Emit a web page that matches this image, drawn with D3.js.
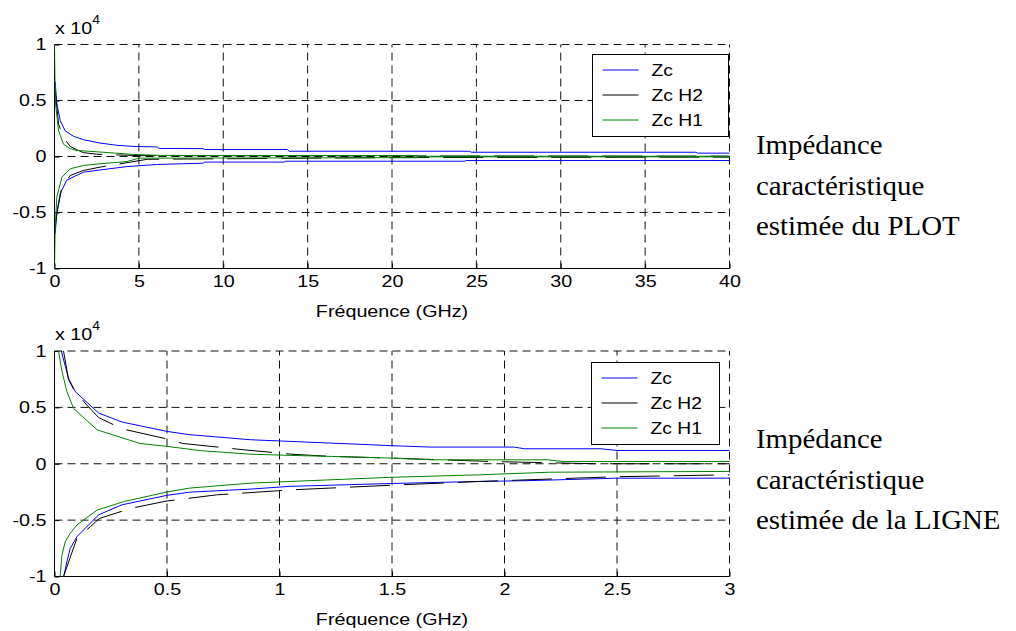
<!DOCTYPE html>
<html>
<head>
<meta charset="utf-8">
<script src="https://cdn.jsdelivr.net/npm/d3@7"></script>
<style>
  html, body { margin: 0; padding: 0; background: #fff; }
  svg { display: block; }
</style>
</head>
<body>
<svg id="chart" width="1016" height="631"></svg>
<script>
// ---------------- DATA ----------------
const seriesNames = ["Zc", "Zc H2", "Zc H1"];
const seriesColors = ["#0000ff", "#000000", "#008000"];

// Top panel (PLOT), frequency in GHz, values in units of 1e4
const plotXTicks = [0, 5, 10, 15, 20, 25, 30, 35, 40];
const plotXTickLabels = ["0", "5", "10", "15", "20", "25", "30", "35", "40"];
const yTicks = [-1, -0.5, 0, 0.5, 1];
const yTickLabels = ["-1", "-0.5", "0", "0.5", "1"];

const plotZcUpF  = [0.04, 0.14, 0.34, 0.63, 1.13, 1.72, 2.7, 3.7, 4.7, 6.1, 6.2, 8.8, 8.9, 13.8, 13.9, 24.6, 24.7, 38, 38.1, 40];
const plotZcUpV  = [0.67, 0.47, 0.32, 0.23, 0.18, 0.15, 0.12, 0.10, 0.09, 0.085, 0.072, 0.07, 0.062, 0.062, 0.047, 0.047, 0.038, 0.038, 0.03, 0.03];
const plotZcLoF  = [0.04, 0.14, 0.34, 0.73, 1.72, 2.7, 4.3, 6.1, 8.8, 8.9, 13.6, 13.7, 24.3, 24.4, 40];
const plotZcLoV  = [-0.69, -0.5, -0.33, -0.21, -0.14, -0.12, -0.09, -0.071, -0.06, -0.05, -0.05, -0.042, -0.042, -0.036, -0.036];
const plotH2UpF  = [0.02, 0.14, 0.24, 0.53, 0.93, 1.33, 1.7, 2.5, 5, 20, 40];
const plotH2UpV  = [0.6, 0.44, 0.29, 0.17, 0.09, 0.06, 0.035, 0.02, 0.008, 0.005, 0.003];
const plotH2LoF  = [0.02, 0.14, 0.44, 0.93, 1.7, 2.7, 4.5, 5.5, 20, 40];
const plotH2LoV  = [-0.65, -0.51, -0.27, -0.17, -0.125, -0.095, -0.05, -0.025, -0.01, -0.005];
const plotH1UpF  = [0, 0.04, 0.24, 0.53, 0.93, 1.33, 2.7, 4.7, 6.3, 21.5, 21.6, 40];
const plotH1UpV  = [1, 0.5, 0.23, 0.11, 0.07, 0.054, 0.04, 0.018, 0.01, 0.008, 0.002, 0.002];
const plotH1LoF  = [0, 0.04, 0.14, 0.44, 0.93, 1.72, 2.7, 4.3, 5.0, 21.5, 21.6, 40];
const plotH1LoV  = [-1, -0.63, -0.36, -0.185, -0.11, -0.08, -0.065, -0.045, -0.015, -0.01, -0.003, -0.003];

// Bottom panel (LIGNE)
const ligneXTicks = [0, 0.5, 1, 1.5, 2, 2.5, 3];
const ligneXTickLabels = ["0", "0.5", "1", "1.5", "2", "2.5", "3"];

const ligneZcUpF = [0.03, 0.048, 0.062, 0.092, 0.196, 0.3, 0.5, 0.6, 0.87, 1.05, 1.23, 1.4, 1.5, 1.67, 2.04, 2.09, 2.43, 2.5, 3.0];
const ligneZcUpV = [1.0, 0.865, 0.76, 0.64, 0.45, 0.37, 0.287, 0.258, 0.213, 0.198, 0.183, 0.169, 0.16, 0.148, 0.148, 0.133, 0.133, 0.118, 0.118];
const ligneZcLoF = [0.04, 0.055, 0.07, 0.1, 0.196, 0.3, 0.5, 0.6, 0.87, 1.05, 1.5, 1.89, 2.1, 2.5, 3.0];
const ligneZcLoV = [-1.01, -0.87, -0.75, -0.646, -0.453, -0.364, -0.28, -0.252, -0.225, -0.2, -0.175, -0.157, -0.15, -0.128, -0.128];
const ligneH2UpF = [0.04, 0.062, 0.085, 0.144, 0.196, 0.3, 0.5, 0.57, 0.84, 1.05, 1.23, 1.5, 1.94, 2.19, 2.4, 3.0];
const ligneH2UpV = [1.0, 0.75, 0.66, 0.52, 0.41, 0.31, 0.22, 0.18, 0.124, 0.085, 0.065, 0.05, 0.02, 0.009, 0.0, 0.0];
const ligneH2LoF = [0.04, 0.1, 0.16, 0.2, 0.34, 0.5, 0.72, 1.05, 1.5, 1.89, 2.5, 3.0];
const ligneH2LoV = [-1.0, -0.66, -0.557, -0.485, -0.395, -0.33, -0.276, -0.232, -0.19, -0.157, -0.115, -0.098];
const ligneH1UpF = [0.01, 0.018, 0.033, 0.055, 0.085, 0.19, 0.38, 0.5, 0.65, 0.87, 1.05, 1.23, 1.5, 1.67, 2.19, 2.26, 3.0];
const ligneH1UpV = [1.0, 1.0, 0.82, 0.64, 0.49, 0.30, 0.18, 0.154, 0.116, 0.085, 0.074, 0.065, 0.05, 0.035, 0.035, 0.02, 0.02];
const ligneH1LoF = [0.025, 0.033, 0.048, 0.07, 0.1, 0.19, 0.31, 0.5, 0.6, 0.87, 1.05, 1.5, 1.89, 2.2, 3.0];
const ligneH1LoV = [-1.0, -0.81, -0.69, -0.617, -0.542, -0.41, -0.335, -0.25, -0.216, -0.172, -0.157, -0.12, -0.098, -0.075, -0.068];

const xAxisLabel = "Fréquence (GHz)";
const plotSideText = ["Impédance", "caractéristique", "estimée du PLOT"];
const ligneSideText = ["Impédance", "caractéristique", "estimée de la LIGNE"];

// ---------------- DRAW ----------------
const svg = d3.select("#chart");
const SANS = "'Liberation Sans', Arial, sans-serif";
const SERIF = "'Liberation Serif', 'Times New Roman', serif";
const FS = 17;       // sans font size
const S = 1.16;      // horizontal stretch of sans text in the original
const SS = 1.05;     // horizontal stretch of serif text

function zipPts(f, v) { return f.map((d, i) => [d, v[i]]); }

function stretchedText(g, x, y, str, opts) {
  const t = g.append("g").attr("transform", `translate(${x},${y}) scale(${opts.sx || S},1)`)
    .append("text")
    .attr("font-family", opts.family || SANS)
    .attr("font-size", opts.size || FS)
    .attr("text-anchor", opts.anchor || "start")
    .attr("fill", "#000")
    .text(str);
  return t;
}

function drawPanel(cfg, idx) {
  const left = 54.5, right = 729.5;
  const x = d3.scaleLinear().domain(cfg.xDomain).range([left, right]);
  const y = d3.scaleLinear().domain([-1, 1]).range([cfg.bottom, cfg.top]);
  const g = svg.append("g");

  // grid
  const grid = g.append("g").attr("stroke", "#111").attr("stroke-width", 1)
    .attr("stroke-dasharray", "8,5").attr("fill", "none");
  cfg.xTicks.forEach(t => {
    if (t === cfg.xDomain[0]) return;
    grid.append("line").attr("x1", x(t)).attr("x2", x(t)).attr("y1", y(-1)).attr("y2", y(1));
  });
  yTicks.forEach(t => {
    if (t === -1) return;
    grid.append("line").attr("x1", x(cfg.xDomain[0])).attr("x2", x(cfg.xDomain[1])).attr("y1", y(t)).attr("y2", y(t));
  });

  // axes (ticks inward)
  const xAxis = d3.axisBottom(x).tickValues(cfg.xTicks).tickSize(-5).tickPadding(6)
    .tickFormat((d, i) => cfg.xTickLabels[i]);
  const ax = g.append("g").attr("transform", `translate(0,${cfg.bottom})`).call(xAxis);
  ax.select(".domain").remove();
  ax.selectAll("line").attr("stroke", "#000");
  ax.selectAll("text").attr("font-family", SANS).attr("font-size", FS).attr("fill", "#000")
    .attr("transform", `scale(${S},1)`);

  const yAxis = d3.axisLeft(y).tickValues(yTicks).tickSize(-5)
    .tickFormat((d, i) => yTickLabels[i]);
  const ay = g.append("g").attr("transform", `translate(${left},0)`).call(yAxis);
  ay.select(".domain").remove();
  ay.selectAll("line").attr("stroke", "#000");
  ay.selectAll("text").attr("font-family", SANS).attr("font-size", FS).attr("fill", "#000")
    .attr("x", -8 / S).attr("transform", `scale(${S},1)`);

  // axis lines (left & bottom solid)
  g.append("line").attr("x1", left).attr("x2", right).attr("y1", cfg.bottom).attr("y2", cfg.bottom)
    .attr("stroke", "#000").attr("stroke-width", 1);
  g.append("line").attr("x1", left).attr("x2", left).attr("y1", cfg.top).attr("y2", cfg.bottom)
    .attr("stroke", "#000").attr("stroke-width", 1);

  // clip
  const clipId = "clip" + idx;
  svg.append("clipPath").attr("id", clipId).append("rect")
    .attr("x", left).attr("y", cfg.top - 0.5).attr("width", right - left + 1).attr("height", cfg.bottom - cfg.top + 1);

  const line = d3.line().x(d => x(d[0])).y(d => y(d[1]));
  const lines = g.append("g").attr("clip-path", `url(#${clipId})`).attr("fill", "none");
  cfg.series.forEach(s => {
    s.branches.forEach(b => {
      lines.append("path").datum(b).attr("d", line)
        .attr("stroke", s.color).attr("stroke-width", 1)
        .attr("stroke-dasharray", s.dash || null);
    });
  });

  // x 10^4
  const mult = g.append("g").attr("transform", `translate(55,${cfg.top - 11}) scale(${S},1)`)
    .append("text").attr("font-family", SANS).attr("font-size", FS).attr("fill", "#000");
  mult.append("tspan").text("x 10");
  mult.append("tspan").attr("font-size", 12).attr("dy", -10).text("4");

  // x label
  stretchedText(g, (left + right) / 2, cfg.bottom + 48.5, xAxisLabel, { anchor: "middle" });

  // legend
  const L = cfg.legend;
  const lg = g.append("g");
  lg.append("rect").attr("x", L.x).attr("y", L.y).attr("width", L.w).attr("height", L.h)
    .attr("fill", "#fff").attr("stroke", "#000").attr("stroke-width", 1);
  seriesNames.forEach((n, i) => {
    const yy = L.y + 15.5 + i * 25;
    lg.append("line").attr("x1", L.x + 10).attr("x2", L.x + 46).attr("y1", yy).attr("y2", yy)
      .attr("stroke", seriesColors[i]).attr("stroke-width", 1);
    stretchedText(lg, L.x + 59, yy + 6, n, { size: 16.5, sx: 1.17 });
  });

  // side text
  cfg.sideText.forEach((t, i) => {
    stretchedText(g, 756, cfg.sideY + i * 40.5, t, { family: SERIF, size: 27.5, sx: SS });
  });
}

const panels = [
  {
    top: 44.5, bottom: 268.5, xDomain: [0, 40], xTicks: plotXTicks, xTickLabels: plotXTickLabels,
    legend: { x: 592.5, y: 54.5, w: 136, h: 82 },
    sideText: plotSideText, sideY: 154,
    series: [
      { color: seriesColors[0], branches: [zipPts(plotZcUpF, plotZcUpV), zipPts(plotZcLoF, plotZcLoV)] },
      { color: seriesColors[1], dash: "40,14", branches: [zipPts(plotH2UpF, plotH2UpV), zipPts(plotH2LoF, plotH2LoV)] },
      { color: seriesColors[2], branches: [zipPts(plotH1UpF, plotH1UpV), zipPts(plotH1LoF, plotH1LoV)] }
    ]
  },
  {
    top: 351, bottom: 576.5, xDomain: [0, 3], xTicks: ligneXTicks, xTickLabels: ligneXTickLabels,
    legend: { x: 591.5, y: 362.5, w: 128, h: 82 },
    sideText: ligneSideText, sideY: 448,
    series: [
      { color: seriesColors[0], branches: [zipPts(ligneZcUpF, ligneZcUpV), zipPts(ligneZcLoF, ligneZcLoV)] },
      { color: seriesColors[1], dash: "40,14", branches: [zipPts(ligneH2UpF, ligneH2UpV), zipPts(ligneH2LoF, ligneH2LoV)] },
      { color: seriesColors[2], branches: [zipPts(ligneH1UpF, ligneH1UpV), zipPts(ligneH1LoF, ligneH1LoV)] }
    ]
  }
];
panels.forEach((p, i) => drawPanel(p, i));
</script>
</body>
</html>
